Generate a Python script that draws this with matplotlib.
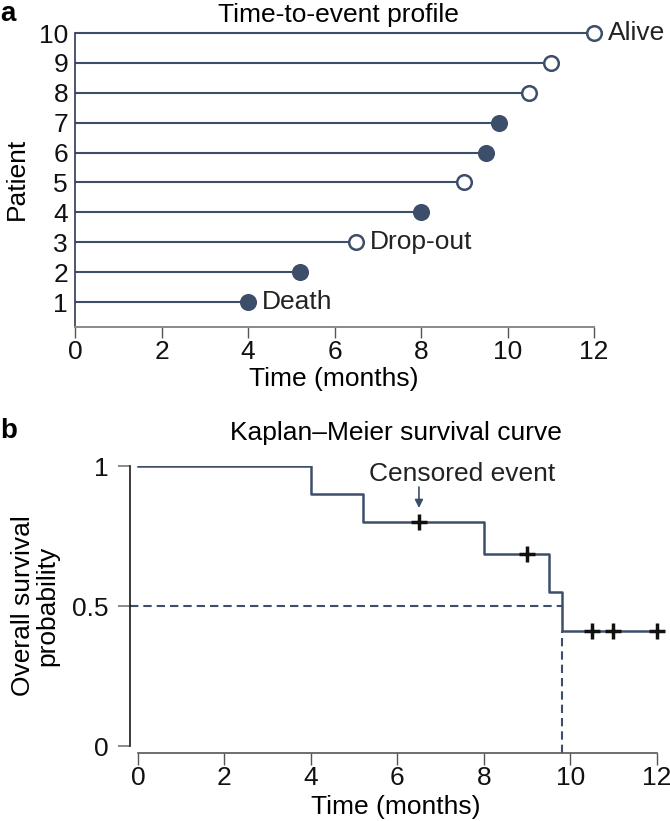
import matplotlib
matplotlib.use("Agg")
import matplotlib.pyplot as plt

plt.rcParams['font.family'] = ['Liberation Sans', 'DejaVu Sans']

# patient follow-up (months) and whether the end point was a death
patients = [1, 2, 3, 4, 5, 6, 7, 8, 9, 10]
times = [4.0, 5.2, 6.5, 8.0, 9.0, 9.5, 9.8, 10.5, 11.0, 12.0]
died = [True, True, False, True, False, True, True, False, False, False]

# Kaplan-Meier step values
km_times = [0.0, 4.0, 5.2, 8.0, 9.5, 9.8, 12.0]
km_surv = [1.0, 0.9, 0.8, 0.686, 0.549, 0.411, 0.411]
censor_times = [6.5, 9.0, 10.5, 11.0, 12.0]
censor_surv = [0.8, 0.686, 0.411, 0.411, 0.411]
median_time = 9.8

xticks = [0, 2, 4, 6, 8, 10, 12]

SLATE = '#3d4e6b'
W, H = 670, 821
FS = 19

fig = plt.figure(figsize=(W / 100, H / 100), dpi=100)


def px(x, y):
    return x / W, 1 - y / H


# ---- panel a: time-to-event profile
ax1 = fig.add_axes([75 / W, 1 - 327 / H, 519 / W, 294 / H])
for p, t, d in zip(patients, times, died):
    ax1.plot([0, t], [p, p], color=SLATE, lw=1.5, solid_capstyle='butt',
             clip_on=False, zorder=2)
    if d:
        ax1.plot(t, p, 'o', ms=12.3, mfc=SLATE, mec=SLATE, mew=0, clip_on=False, zorder=3)
    else:
        ax1.plot(t, p, 'o', ms=10.5, mfc='white', mec=SLATE, mew=1.8, clip_on=False, zorder=3)

for idx, txt in [(9, 'Alive'), (2, 'Drop-out'), (0, 'Death')]:
    ax1.annotate(txt, xy=(times[idx], patients[idx]), xytext=(10, 0),
                 textcoords='offset points', va='center', ha='left',
                 fontsize=FS, color='#222222')

ax1.set_xlim(0, 12)
ax1.set_ylim(0.164, 10)
ax1.set_xticks(xticks)
ax1.set_yticks(patients)
ax1.tick_params(axis='y', length=0, pad=5, labelsize=FS, colors='#111111')
ax1.tick_params(axis='x', length=8, width=1, pad=1.5, labelsize=FS,
                color='#555555', labelcolor='#111111')
for s in ['top', 'right']:
    ax1.spines[s].set_visible(False)
ax1.spines['left'].set_color('#2f3b52')
ax1.spines['left'].set_linewidth(1.2)
ax1.spines['bottom'].set_color('#8a8a8a')
ax1.spines['bottom'].set_linewidth(1.4)

fig.text(*px(0, 14), 'a', fontsize=20, fontweight='bold', ha='left', va='center')
fig.text(*px(338, 15), 'Time-to-event profile', fontsize=FS, ha='center', va='center')
fig.text(*px(334, 379), 'Time (months)', fontsize=FS, ha='center', va='center')
fig.text(*px(17, 179), 'Patient', fontsize=FS, ha='center', va='center', rotation=90)

# ---- panel b: Kaplan-Meier survival curve
ax2 = fig.add_axes([130 / W, 1 - 753 / H, 526.7 / W, 287 / H])
ax2.step(km_times, km_surv, where='post', color=SLATE, lw=1.8, zorder=2)
ax2.plot(censor_times, censor_surv, '+', color='#111111', ms=12, mew=2.5,
         clip_on=False, zorder=4)

ax2.set_xlim(-0.185, 12)
ax2.set_ylim(-0.025, 1.0)

dash = (0, (4, 2.4))
ax2.plot([-0.185, median_time], [0.5, 0.5], color=SLATE, lw=1.5, ls=dash, zorder=1)
ax2.plot([median_time, median_time], [-0.025, km_surv[-1]], color=SLATE, lw=1.5,
         ls=dash, zorder=1)

ax2.annotate('', xy=(censor_times[0], 0.85), xytext=(censor_times[0], 0.925),
             arrowprops=dict(arrowstyle='-|>', color=SLATE, lw=1.2,
                             mutation_scale=12, shrinkA=0, shrinkB=0))
ax2.text(7.5, 0.97, 'Censored event', fontsize=FS, ha='center', va='center',
         color='#222222')

ax2.set_xticks(xticks)
ax2.set_yticks([0, 0.5, 1])
ax2.set_yticklabels(['0', '0.5', '1'])
ax2.tick_params(axis='y', length=8.6, width=1.2, pad=7, labelsize=FS,
                color='#777777', labelcolor='#111111')
ax2.tick_params(axis='x', length=8.6, width=1, pad=0.5, labelsize=FS,
                color='#555555', labelcolor='#111111')
for s in ['top', 'right']:
    ax2.spines[s].set_visible(False)
ax2.spines['left'].set_bounds(0, 1)
ax2.spines['left'].set_color('#1a1a1a')
ax2.spines['left'].set_linewidth(1.2)
ax2.spines['bottom'].set_bounds(0, 12)
ax2.spines['bottom'].set_color('#555555')
ax2.spines['bottom'].set_linewidth(1.2)

fig.text(*px(0, 431), 'b', fontsize=20, fontweight='bold', ha='left', va='center')
fig.text(*px(396, 433), 'Kaplan\u2013Meier survival curve', fontsize=FS,
         ha='center', va='center')
fig.text(*px(396, 807), 'Time (months)', fontsize=FS, ha='center', va='center')
fig.text(*px(35, 606), 'Overall survival\nprobability', fontsize=FS, ha='center',
         va='center', rotation=90, linespacing=1.05)

fig.savefig('out.png', dpi=100)
